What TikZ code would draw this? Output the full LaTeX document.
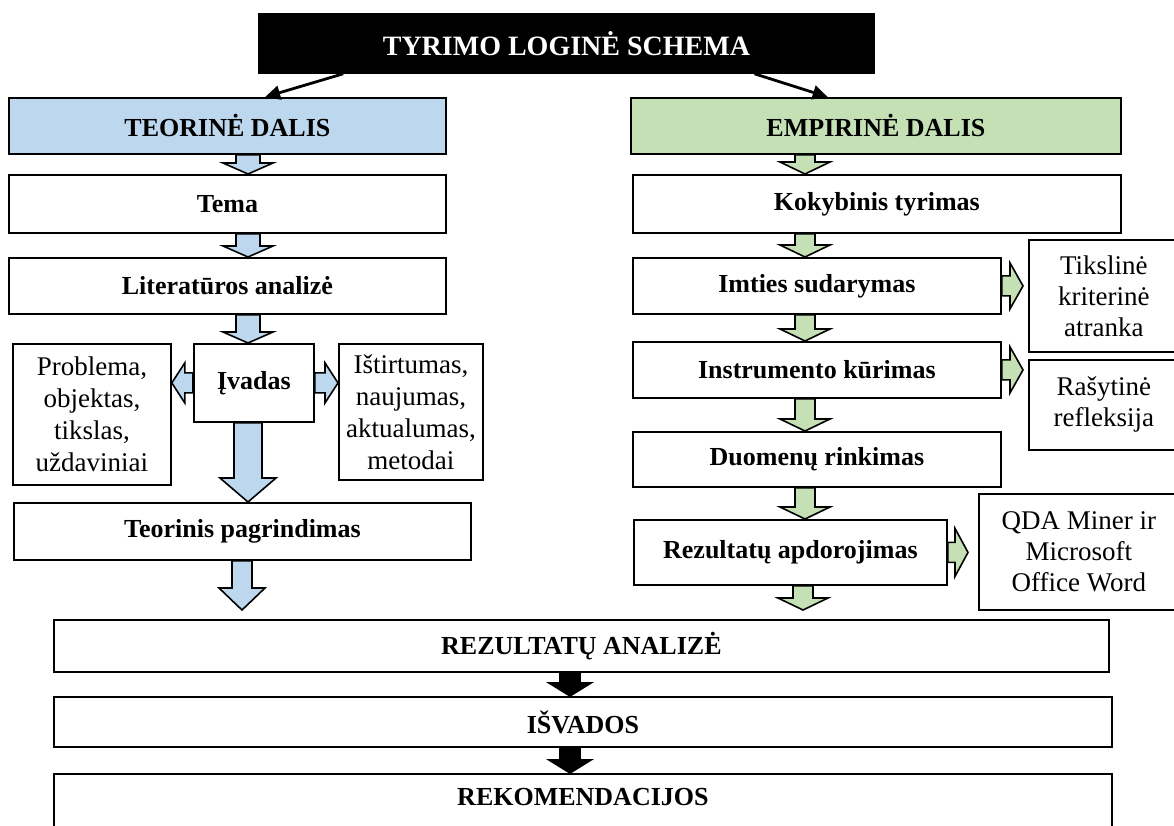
\documentclass[tikz,border=0pt]{standalone}
\usepackage{fontspec}
\setmainfont{Liberation Serif}
\usepackage{tikz}
\usetikzlibrary{arrows.meta,calc}
\definecolor{blueA}{HTML}{BDD7EE}
\definecolor{greenA}{HTML}{C5E0B4}
% block arrow pointing down, from point #1 to the tip #2 at x=#3
\newcommand{\blkdown}[7]{%
  \path[blk,fill=#7] let \p1=(#1), \p2=(#2) in
    (#3pt-#4pt,\y1) -- (#3pt-#4pt,\y2+#6pt) -- (#3pt-#5pt,\y2+#6pt) -- (#3pt,\y2)
    -- (#3pt+#5pt,\y2+#6pt) -- (#3pt+#4pt,\y2+#6pt) -- (#3pt+#4pt,\y1) -- cycle;}
% block arrow to the side, from #1 to the tip #2
\newcommand{\blkside}[6]{%
  \path[blk,fill=#6] let \p1=(#1), \p2=(#2), \n1={sign(\x2-\x1)} in
    (\x1,\y1+#3pt) -- (\x2-\n1*#5pt,\y1+#3pt) -- (\x2-\n1*#5pt,\y1+#4pt) -- (\x2,\y1)
    -- (\x2-\n1*#5pt,\y1-#4pt) -- (\x2-\n1*#5pt,\y1-#3pt) -- (\x1,\y1-#3pt) -- cycle;}

\begin{document}
\begin{tikzpicture}[x=1pt, y=-1pt,
  box/.style={draw, line width=1.8pt, anchor=north west, align=center, inner sep=2pt,
    font=\fontsize{26}{30}\selectfont\bfseries},
  sidebox/.style={box, font=\fontsize{27}{31}\selectfont},
  blk/.style={draw=black, line width=1.6pt, line join=miter}]
  \path[use as bounding box, fill=white] (0,0) rectangle (1174,825);

  \node[box, fill=black, text=white, font=\fontsize{28}{32}\selectfont\bfseries,
    minimum width=615pt, minimum height=59pt] (title) at (258,13) {TYRIMO LOGINĖ SCHEMA};

  % teorine dalis
  \node[box, fill=blueA, minimum width=437pt, minimum height=56pt] (teo) at (8,97) {TEORINĖ DALIS};
  \node[box, minimum width=437pt, minimum height=58pt] (tema) at (8,174) {Tema};
  \node[box, minimum width=437pt, minimum height=56pt] (lit) at (8,257) {Literatūros analizė};
  \node[box, minimum width=120pt, minimum height=78pt] (ivad) at (193,343) {Įvadas};
  \node[sidebox, font=\fontsize{27}{32}\selectfont, minimum width=158pt, minimum height=141pt] (probl) at (12,343) {Problema,\\objektas,\\tikslas,\\uždaviniai};
  \node[sidebox, font=\fontsize{27}{32}\selectfont, minimum width=144pt, minimum height=136pt] (istirt) at (338,343) {Ištirtumas,\\naujumas,\\aktualumas,\\metodai};
  \node[box, minimum width=457pt, minimum height=57pt] (teorp) at (13,502) {Teorinis pagrindimas};

  % empirine dalis
  \node[box, fill=greenA, minimum width=490pt, minimum height=56pt] (emp) at (630,97) {EMPIRINĖ DALIS};
  \node[box, minimum width=488pt, minimum height=58pt] (kok) at (632,174) {Kokybinis tyrimas};
  \node[box, minimum width=368pt, minimum height=56pt] (imt) at (632,257) {Imties sudarymas};
  \node[box, minimum width=368pt, minimum height=56pt] (instr) at (632,341) {Instrumento kūrimas};
  \node[box, minimum width=368pt, minimum height=55pt] (duom) at (632,431) {Duomenų rinkimas};
  \node[box, minimum width=313pt, minimum height=65pt] (rezap) at (633,519) {Rezultatų apdorojimas};
  \node[sidebox, minimum width=150pt, minimum height=112pt] (tiks) at (1028,239) {Tikslinė\\kriterinė\\atranka};
  \node[sidebox, minimum width=150pt, minimum height=90pt] (rasyt) at (1028,359) {Rašytinė\\refleksija};
  \node[sidebox, minimum width=200pt, minimum height=116pt] (qda) at (978,493) {QDA Miner ir\\Microsoft\\Office Word};

  % bendra dalis
  \node[box, minimum width=1055pt, minimum height=52pt] (rezan) at (53,619) {REZULTATŲ ANALIZĖ};
  \node[box, minimum width=1058pt, minimum height=50pt] (isv) at (53,696) {IŠVADOS};
  \node[box, minimum width=1058pt, minimum height=70pt, text depth=24pt] (rek) at (53,773) {REKOMENDACIJOS};

  \draw[-{Triangle[length=15pt,width=14pt]}, line width=2.8pt]
    ($(title.south west)!0.138!(title.south east)$) -- ($(teo.north west)!0.586!(teo.north east)$);
  \draw[-{Triangle[length=15pt,width=14pt]}, line width=2.8pt]
    ($(title.south west)!0.805!(title.south east)$) -- ($(emp.north west)!0.402!(emp.north east)$);

  \blkdown{teo.south}{tema.north}{248}{12}{25}{11}{blueA}
  \blkdown{tema.south}{lit.north}{248}{12}{25}{11}{blueA}
  \blkdown{lit.south}{ivad.north}{248}{12}{25}{11}{blueA}
  \blkdown{ivad.south}{teorp.north}{248}{14}{28}{24}{blueA}
  \blkdown{teorp.south}{$(rezan.north)+(0,-9)$}{242}{10}{23}{22}{blueA}
  \blkside{ivad.west}{probl.east}{10}{20}{13}{blueA}
  \blkside{ivad.east}{istirt.west}{10}{20}{13}{blueA}

  \blkdown{emp.south}{kok.north}{805}{10}{25}{12}{greenA}
  \blkdown{kok.south}{imt.north}{805}{10}{25}{12}{greenA}
  \blkdown{imt.south}{instr.north}{805}{10}{25}{12}{greenA}
  \blkdown{instr.south}{duom.north}{805}{10}{25}{12}{greenA}
  \blkdown{duom.south}{rezap.north}{805}{10}{25}{12}{greenA}
  \blkdown{rezap.south}{$(rezan.north)+(0,-9)$}{803}{10}{25}{12}{greenA}
  \blkside{imt.east}{$(tiks.west)+(-5,0)$}{10}{23}{13}{greenA}
  \blkside{instr.east}{$(rasyt.west)+(-5,0)$}{10}{23}{13}{greenA}
  \blkside{rezap.east}{$(qda.west)+(-10,0)$}{10}{24}{13}{greenA}

  \blkdown{rezan.south}{isv.north}{570}{10}{21}{13}{black}
  \blkdown{isv.south}{rek.north}{570}{10}{21}{13}{black}
\end{tikzpicture}
\end{document}
